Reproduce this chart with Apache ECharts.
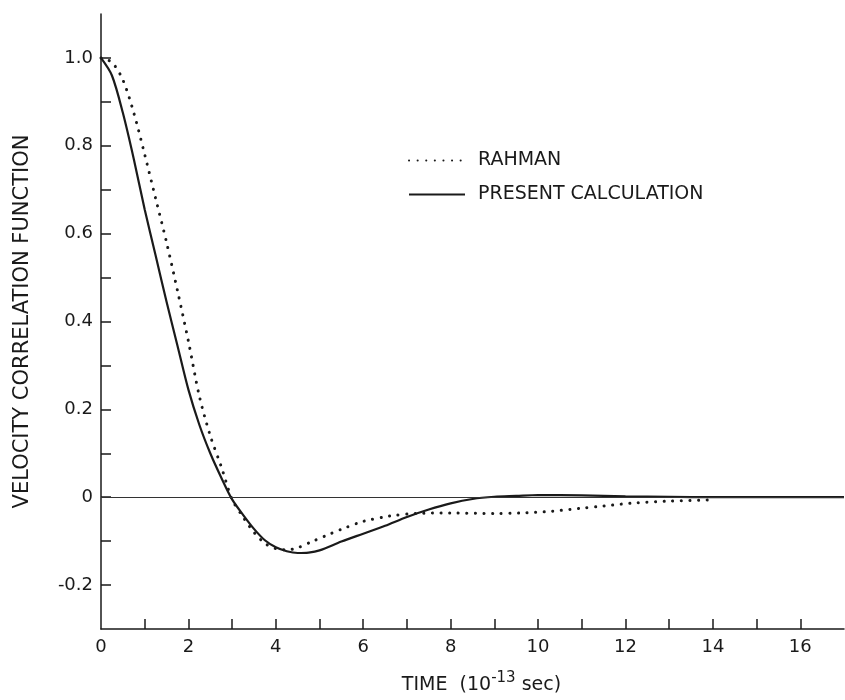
<!DOCTYPE html>
<html>
<head>
<meta charset="utf-8">
<script src="https://cdn.jsdelivr.net/npm/echarts@6/dist/echarts.min.js"></script>
<style>
  html, body { margin: 0; padding: 0; background: #fff; }
  #chart { width: 845px; height: 700px; }
</style>
</head>
<body>
<div id="chart"></div>
<script>
// time axis, 10^-13 sec
var tRahman = [0, 0.25, 0.5, 0.75, 1, 1.25, 1.5, 1.75, 2, 2.25, 2.5, 2.75, 3, 3.25, 3.5, 3.75, 4, 4.25, 4.5, 4.85, 5.25, 5.5, 6, 6.6, 7.2, 8, 9, 9.6, 10.3, 11, 11.5, 12.2, 13, 14];
var rahman = [1.0, 0.99, 0.95, 0.875, 0.78, 0.68, 0.58, 0.47, 0.355, 0.23, 0.14, 0.07, -0.005, -0.045, -0.08, -0.105, -0.117, -0.12, -0.115, -0.1, -0.083, -0.073, -0.055, -0.043, -0.037, -0.036, -0.037, -0.036, -0.032, -0.025, -0.02, -0.013, -0.009, -0.006];

var tPresent = [0, 0.25, 0.5, 0.75, 1, 1.25, 1.5, 1.75, 2, 2.25, 2.5, 2.75, 3, 3.25, 3.5, 3.75, 4, 4.25, 4.5, 4.75, 5, 5.5, 6, 6.5, 7, 7.5, 8, 8.5, 9, 9.5, 10, 11, 12, 13, 14, 15, 16, 17];
var present = [1.0, 0.96, 0.875, 0.77, 0.655, 0.55, 0.445, 0.345, 0.245, 0.165, 0.1, 0.045, -0.005, -0.04, -0.072, -0.098, -0.114, -0.123, -0.127, -0.126, -0.121, -0.101, -0.083, -0.065, -0.045, -0.028, -0.014, -0.004, 0.001, 0.003, 0.005, 0.004, 0.002, 0.001, 0.0, 0.0, 0.0, 0.0];

var xTicks = [1, 2, 3, 4, 5, 6, 7, 8, 9, 10, 11, 12, 13, 14, 15, 16];
var xLabels = [0, 2, 4, 6, 8, 10, 12, 14, 16];
var yTicks = [-0.2, -0.1, 0, 0.1, 0.2, 0.3, 0.4, 0.5, 0.6, 0.7, 0.8, 0.9, 1.0];
var yLabels = [-0.2, 0, 0.2, 0.4, 0.6, 0.8, 1.0];

var ink = '#1a1a1a';
var font = 'DejaVu Sans';

function pairs(xs, ys) {
  return xs.map(function (x, i) { return [x, ys[i]]; });
}

var chart = echarts.init(document.getElementById('chart'));

var option = {
  backgroundColor: '#fff',
  animation: false,
  grid: { left: 101, right: 1, top: 14, bottom: 63 },
  legend: {
    orient: 'vertical',
    left: 403,
    top: 146,
    itemWidth: 56,
    itemHeight: 14,
    itemGap: 15,
    itemStyle: { opacity: 0 },
    textStyle: { fontFamily: font, fontSize: 19, color: ink, padding: [0, 0, 0, 8] },
    data: ['RAHMAN', 'PRESENT CALCULATION']
  },
  xAxis: {
    type: 'value',
    min: 0,
    max: 17,
    splitLine: { show: false },
    axisLine: { onZero: false, lineStyle: { color: ink, width: 1.5 } },
    axisTick: { inside: true, length: 10, customValues: xTicks, lineStyle: { color: ink, width: 1.5 } },
    axisLabel: {
      customValues: xLabels,
      margin: 9,
      fontFamily: font, fontSize: 18, color: ink
    },
    name: 'TIME  (10{sup|-13} sec)',
    nameLocation: 'middle',
    nameGap: 42,
    nameTextStyle: {
      fontFamily: font, fontSize: 19, color: ink,
      padding: [0, 0, 0, 18],
      rich: { sup: { fontFamily: font, fontSize: 15, color: ink, padding: [0, 0, 14, 0] } }
    }
  },
  yAxis: {
    type: 'value',
    min: -0.3,
    max: 1.1,
    splitLine: { show: false },
    axisLine: { onZero: false, lineStyle: { color: ink, width: 1.5 } },
    axisTick: { inside: true, length: 10, customValues: yTicks, lineStyle: { color: ink, width: 1.5 } },
    axisLabel: {
      customValues: yLabels,
      margin: 8,
      fontFamily: font, fontSize: 18, color: ink,
      formatter: function (v) {
        if (Math.abs(v) < 1e-9) return '0';
        return v.toFixed(1);
      }
    },
    name: 'VELOCITY CORRELATION FUNCTION',
    nameLocation: 'middle',
    nameGap: 68,
    nameTextStyle: { fontFamily: font, fontSize: 21, color: ink }
  },
  series: [
    {
      name: 'RAHMAN',
      type: 'line',
      smooth: 0.3,
      symbol: 'none',
      data: pairs(tRahman, rahman),
      lineStyle: { color: ink, width: 3, type: [0.1, 8.5], cap: 'round' },
      itemStyle: { color: ink },
      z: 3
    },
    {
      name: 'PRESENT CALCULATION',
      type: 'line',
      smooth: 0.3,
      symbol: 'none',
      data: pairs(tPresent, present),
      lineStyle: { color: ink, width: 2.2, type: 'solid' },
      itemStyle: { color: ink },
      markLine: {
        silent: true,
        symbol: 'none',
        label: { show: false },
        lineStyle: { color: '#333', width: 1.2, type: 'solid' },
        data: [{ yAxis: 0 }]
      },
      z: 4
    }
  ]
};

chart.setOption(option);
</script>
</body>
</html>
